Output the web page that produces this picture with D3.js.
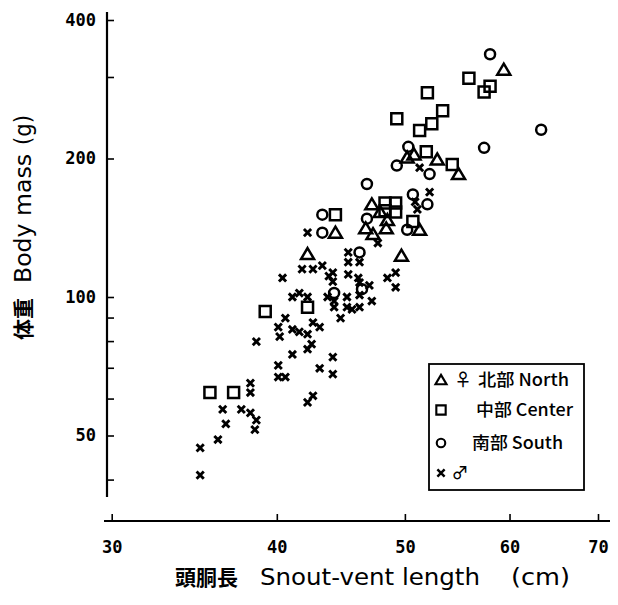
<!DOCTYPE html>
<html>
<head>
<meta charset="utf-8">
<script src="https://cdn.jsdelivr.net/npm/d3@7"></script>
<style>
body { margin: 0; background: #fff; }
svg { display: block; }
</style>
</head>
<body>
<div class="graph"></div>
<script>
"use strict";

var width = 618,
    height = 605;

// snout-vent length (cm) and body mass (g)
var northSVL  = [59.4, 50.2, 50.8, 52.9, 54.9, 47.2, 47.9, 48.5, 46.7, 47.3, 48.4, 51.3, 44.3, 42.2, 49.7];
var northMass = [312, 201, 204, 199, 185, 159, 153, 147, 141, 137, 141, 140, 138, 124, 123];

var centerSVL  = [55.9, 58.0, 57.4, 52.0, 53.4, 52.4, 51.3, 49.3, 51.9, 54.3, 48.3, 49.2, 48.3, 49.2, 50.7, 44.3, 42.2, 39.2, 35.6, 37.1];
var centerMass = [299, 287, 279, 278, 254, 238, 230, 244, 207, 194, 160, 160, 154, 153, 146, 151, 95, 93, 62, 62];

var southSVL  = [58.0, 63.4, 57.4, 50.3, 49.3, 52.2, 46.8, 50.7, 52.0, 43.3, 43.3, 46.8, 50.2, 46.2, 44.2, 46.4];
var southMass = [337, 231, 211, 212, 193, 185, 176, 167, 159, 151, 138, 148, 140, 125, 102, 104];

var maleSVL  = [51.3, 52.2, 51.1, 50.9, 47.7, 42.2, 45.3, 45.3, 46.2, 40.4, 41.8, 42.6, 43.3, 44.1, 44.1, 43.8,
                45.3, 46.1, 46.2, 47.0, 48.5, 49.2, 49.2, 41.1, 41.6, 42.2, 43.7, 44.2, 44.2, 44.7, 45.2, 45.2,
                45.6, 46.2, 46.2, 47.2, 40.6, 40.1, 40.2, 38.6, 41.1, 41.6, 42.2, 42.6, 43.1, 42.5, 42.2, 41.1,
                44.1, 40.1, 40.1, 40.6, 43.1, 44.1, 42.2, 42.6, 38.2, 38.2, 37.6, 36.4, 38.2, 38.6, 36.6, 38.5,
                36.1, 35.0, 35.0];
var maleMass = [191, 169, 155, 161, 131, 138, 125, 119, 119, 110, 115, 115, 117, 113, 108, 111,
                112, 110, 107.5, 106, 110, 113, 105, 100, 102, 100, 100, 98, 95, 90, 100, 95,
                94, 101, 95, 98, 90, 86, 82, 80, 85, 84, 83, 88, 86, 79, 77, 75,
                74, 71, 67, 67, 70, 68, 59, 61, 65, 62, 57, 57, 56, 54, 53, 51.5,
                49, 47, 41];

var xTicks = [30, 40, 50, 60, 70];
var yTicks = [50, 100, 200, 400];
var yMinorTicks = [40, 60, 70, 80, 90, 300];

var groupNames = ['north', 'center', 'south', 'male'];
var legendSex = ['\u2640', '', '', '\u2642'];
var legendLabels = ['北部 North', '中部 Center', '南部 South', ''];

var x = d3.scaleLog()
    .domain([30, 70])
    .range([111.7, 598])

var y = d3.scaleLog()
    .domain([50, 400])
    .range([435.5, 20])

var shapes = {
    north: 'M0,-6L6.5,5L-6.5,5Z',
    center: 'M-5.5,-5.5H5.5V5.5H-5.5Z',
    south: d3.path(),
    male: 'M-3.6,-3.6L3.6,3.6M3.6,-3.6L-3.6,3.6'
}
shapes.south.arc(0, 0, 5, 0, 2 * Math.PI);
shapes.south = shapes.south.toString();

var svg = d3.select('.graph').append('svg')
    .attr('width', width)
    .attr('height', height)

// y axis: labels on the left, ticks pointing into the plot
var yAxis = d3.axisLeft(y)
    .tickValues(yTicks)
    .tickFormat(d3.format('d'))
    .tickSizeInner(-7)
    .tickSizeOuter(0)
    .tickPadding(11)

var axisY = svg.append('g')
    .attr('transform', 'translate(107,0)')
    .call(yAxis)

axisY.select('.domain').remove()
axisY.append('line')
    .attr('y1', 12)
    .attr('y2', 497)
    .attr('stroke', '#000')
    .attr('stroke-width', 2.2)

axisY.selectAll('.minor')
    .data(yMinorTicks)
    .enter().append('line')
    .attr('class', 'minor')
    .attr('x2', 7)
    .attr('y1', function(d) { return y(d) })
    .attr('y2', function(d) { return y(d) })
    .attr('stroke', '#000')
    .attr('stroke-width', 1.6)

// x axis: detached line below the plot, ticks pointing up
var xAxis = d3.axisBottom(x)
    .tickValues(xTicks)
    .tickFormat(d3.format('d'))
    .tickSizeInner(-7)
    .tickSizeOuter(0)
    .tickPadding(20)

var axisX = svg.append('g')
    .attr('transform', 'translate(0,521)')
    .call(xAxis)

axisX.select('.domain').remove()
axisX.append('line')
    .attr('x1', 104)
    .attr('x2', 610)
    .attr('stroke', '#000')
    .attr('stroke-width', 2.2)

svg.selectAll('.tick line')
    .attr('stroke', '#000')
    .attr('stroke-width', 1.6)

svg.selectAll('.tick text')
    .attr('fill', '#000')
    .style('font-family', '"DejaVu Sans Mono", monospace')
    .style('font-weight', 'bold')
    .style('font-size', '17px')

// points
var groups = {
    north: d3.zip(northSVL, northMass),
    center: d3.zip(centerSVL, centerMass),
    south: d3.zip(southSVL, southMass),
    male: d3.zip(maleSVL, maleMass)
}

var points = svg.append('g')

for (var name in groups) {
    points.append('g')
        .attr('class', name)
        .selectAll('path')
        .data(groups[name])
        .enter().append('path')
        .attr('d', shapes[name])
        .attr('transform', function(d) { return 'translate(' + x(d[0]) + ',' + y(d[1]) + ')' })
        .attr('fill', 'none')
        .attr('stroke', '#000')
        .attr('stroke-width', name === 'male' ? 2.9 : 2.5)
}

// legend
var legend = svg.append('g')
    .style('font-family', '"Noto Sans CJK JP", sans-serif')
    .style('font-size', '17px')
    .style('font-weight', 500)

legend.append('rect')
    .attr('x', 429)
    .attr('y', 364)
    .attr('width', 155)
    .attr('height', 126)
    .attr('fill', 'none')
    .attr('stroke', '#000')
    .attr('stroke-width', 1.8)

var rowY = [380, 410, 443, 473];
var labelX = [478, 476, 472, 0];

groupNames.forEach(function(name, i) {
    legend.append('path')
        .attr('d', shapes[name])
        .attr('transform', 'translate(441,' + rowY[i] + ')' + (name === 'male' ? '' : 'scale(0.85)'))
        .attr('fill', 'none')
        .attr('stroke', '#000')
        .attr('stroke-width', 2.5)
    if (legendSex[i]) {
        legend.append('text')
            .attr('x', i === 0 ? 463 : 460)
            .attr('y', rowY[i])
            .attr('dy', '0.35em')
            .attr('text-anchor', 'middle')
            .text(legendSex[i])
    }
    if (legendLabels[i]) {
        legend.append('text')
            .attr('x', labelX[i])
            .attr('y', rowY[i])
            .attr('dy', '0.35em')
            .attr('textLength', i === 1 ? 97 : 91)
            .attr('lengthAdjust', 'spacingAndGlyphs')
            .text(legendLabels[i])
    }
})

// axis titles
var titles = svg.append('g')
    .attr('fill', '#000')

titles.append('text')
    .attr('x', 175)
    .attr('y', 585)
    .style('font-family', '"Noto Sans CJK JP", sans-serif')
    .style('font-size', '21px')
    .style('font-weight', 'bold')
    .text('頭胴長')

titles.append('text')
    .attr('x', 260)
    .attr('y', 585)
    .attr('textLength', 220)
    .attr('lengthAdjust', 'spacingAndGlyphs')
    .style('font-family', '"DejaVu Sans", sans-serif')
    .style('font-size', '23px')
    .text('Snout-vent length')

titles.append('text')
    .attr('x', 511)
    .attr('y', 585)
    .attr('textLength', 59)
    .attr('lengthAdjust', 'spacingAndGlyphs')
    .style('font-family', '"DejaVu Sans", sans-serif')
    .style('font-size', '23px')
    .text('(cm)')

titles.append('text')
    .attr('transform', 'translate(31,340) rotate(-90)')
    .style('font-family', '"Noto Sans CJK JP", sans-serif')
    .style('font-size', '21px')
    .style('font-weight', 'bold')
    .text('体重')

titles.append('text')
    .attr('transform', 'translate(31,283) rotate(-90)')
    .attr('textLength', 129)
    .attr('lengthAdjust', 'spacingAndGlyphs')
    .style('font-family', '"DejaVu Sans", sans-serif')
    .style('font-size', '23px')
    .text('Body mass')

titles.append('text')
    .attr('transform', 'translate(31,145) rotate(-90)')
    .attr('textLength', 30)
    .attr('lengthAdjust', 'spacingAndGlyphs')
    .style('font-family', '"DejaVu Sans", sans-serif')
    .style('font-size', '23px')
    .text('(g)')
</script>
</body>
</html>
